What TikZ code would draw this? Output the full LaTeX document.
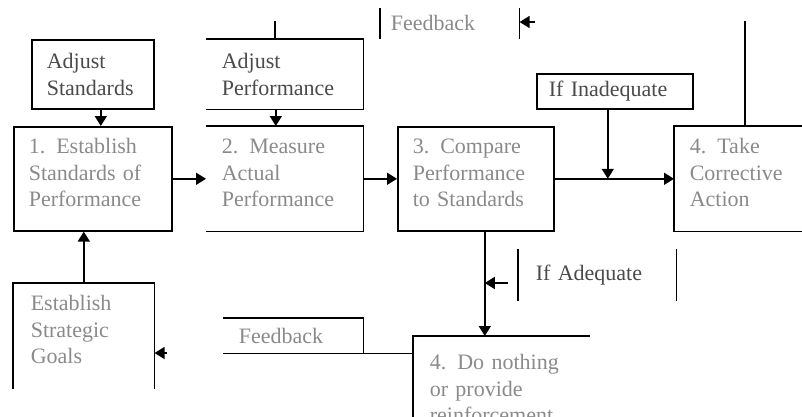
\documentclass[tikz,border=0pt]{standalone}
\usepackage{fontspec}
\setmainfont{Liberation Serif}
\usetikzlibrary{arrows.meta}
\usetikzlibrary{positioning}

\definecolor{paleink}{HTML}{8A8A8A}
\definecolor{darkink}{HTML}{4A4A4A}

\begin{document}
\begin{tikzpicture}[x=1pt,y=-1pt,line width=1.6pt,
        >={Triangle[length=10pt,width=12pt]},
        stage/.style={anchor=north west,align=left,inner xsep=15pt,inner ysep=0pt,
                      font=\fontsize{22}{26.5}\selectfont,text=paleink},
        lifted/.style={text depth=65pt},
        darktext/.style={text=darkink}]

            % \draw [help lines,step=20] (0,0) grid (802,416);
            \useasboundingbox (0,0) rectangle (802,416);
            \clip (0,0) rectangle (802,416);

            \path   (31,39)   node (adjstd)  [stage,darktext,draw,text width=92pt,minimum height=69pt] {Adjust\\Standards}
                    (206,39)  node (adjperf) [stage,darktext,text width=126pt,minimum height=69pt] {Adjust\\Performance}
                    (13,126)  node (est)     [stage,lifted,draw,text width=128pt,minimum height=104pt] {1. Establish\\Standards of\\Performance}
                    (206,126) node (meas)    [stage,lifted,text width=126pt,minimum height=104pt] {2. Measure\\Actual\\Performance}
                    (397,126) node (cmp)     [stage,lifted,draw,text width=126pt,minimum height=104pt] {3. Compare\\Performance\\to Standards}
                    (674,126) node (act)     [stage,lifted,text width=126pt,minimum height=104pt] {4. Take\\Corrective\\Action}
                    (536,73)  node (inadeq)  [stage,darktext,draw,inner xsep=12pt,text width=132pt,minimum height=35pt] {If Inadequate}
                    (380,8)   node (fbtop)   [stage,inner xsep=10pt,text width=118pt,minimum height=29pt] {Feedback}
                    (13,283)  node (goals)   [stage,lifted,inner xsep=17pt,text width=106pt,minimum height=104pt] {Establish\\Strategic\\Goals}
                    (223,318) node (fbbot)   [stage,text width=109pt,minimum height=34pt] {Feedback}
                    (518,249) node (adeq)    [stage,darktext,inner xsep=17pt,text width=123pt,minimum height=50pt] {If Adequate}
                    (413,336) node (dono)    [stage,inner xsep=16pt,text width=143pt,minimum height=104pt] {4. Do nothing\\or provide\\reinforcement};

            % open sides of the boxes
            \draw (adjperf.north west) -- (adjperf.north east) -- (adjperf.south east) -- (adjperf.south west);
            \draw (meas.north west) -- (meas.north east) -- (meas.south east) -- (meas.south west);
            \draw (act.north east) -- (act.north west) -- (act.south west) -- (act.south east);
            \draw (fbtop.north west) -- (fbtop.south west);
            \draw (fbtop.north east) -- (fbtop.south east);
            \draw (goals.south west) -- (goals.north west) -- (goals.north east) -- (goals.south east);
            \draw (fbbot.north west) -- (fbbot.north east) -- (fbbot.south east);
            \draw (fbbot.south west) -- (fbbot.south west -| dono.west);
            \draw (adeq.north west) -- (adeq.south west);
            \draw (adeq.north east) -- (adeq.south east);
            \draw (dono.north east) -- (dono.north west) -- (dono.south west);

            \coordinate (perfin) at (275,21);
            \coordinate (actout) at (745,21);
            \draw (perfin) -- (perfin |- adjperf.north);
            \draw (actout) -- (actout |- act.north);

            \coordinate (stddrop) at ([xshift=8pt]adjstd.south);
            \coordinate (perfdrop) at ([xshift=-9pt]adjperf.south);
            \coordinate (inadrop) at ([xshift=-7pt]inadeq.south);
            \coordinate (cmpdrop) at ([xshift=9pt]cmp.south);
            \coordinate (fbtail) at (535,22);
            \coordinate (goaltail) at (167,353);
            \coordinate (adqtail) at (508,283);

            \draw[->] (stddrop) -- (stddrop |- est.north);
            \draw[->] (perfdrop) -- (perfdrop |- meas.north);
            \draw[->] (est.east) -- (meas.west);
            \draw[->] (meas.east) -- (cmp.west);
            \draw[->] (cmp.east) -- (act.west);
            \draw[->] (inadrop) -- (inadrop |- cmp.east);
            \draw[->] (goals.north) -- (goals.north |- est.south);
            \draw[->] (cmpdrop) -- (cmpdrop |- dono.north);
            \draw[->] (adqtail) -- (adqtail -| cmpdrop);
            \draw[->] (fbtail) -- (fbtail -| fbtop.east);
            \draw[->] (goaltail) -- (goaltail -| goals.east);

\end{tikzpicture}
\end{document}
